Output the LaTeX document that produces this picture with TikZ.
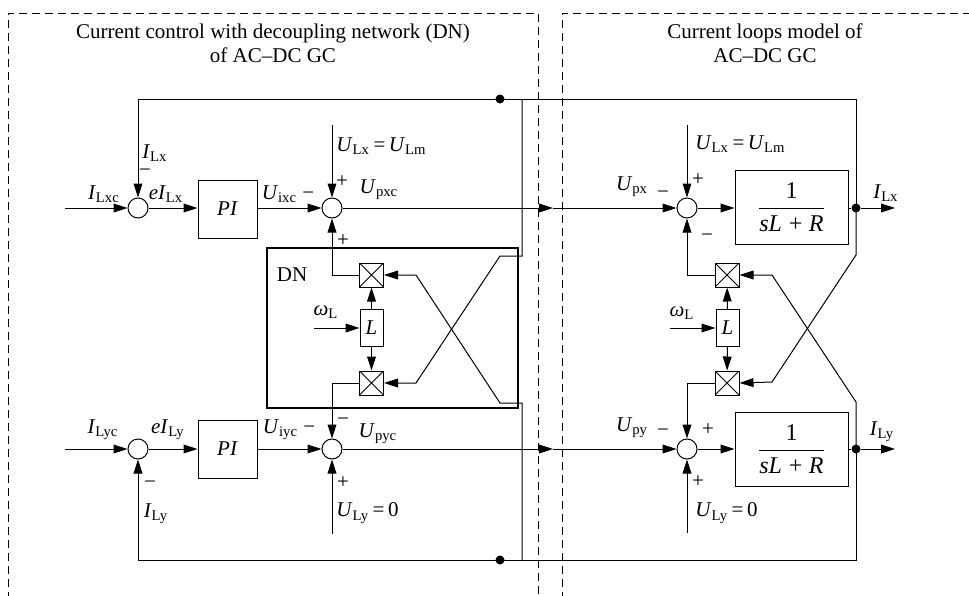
\documentclass[tikz,border=0pt]{standalone}
\usepackage{fontspec}
\setmainfont{Liberation Serif}
\usepackage{amsmath}
\usetikzlibrary{arrows.meta,positioning,calc}

\newcommand{\sig}[2]{\textit{#1}\textsubscript{#2}}

\begin{document}
\begin{tikzpicture}[
    x=0.5pt, y=-0.5pt,
    every node/.style={font=\fontsize{10.5}{12}\selectfont, inner sep=1pt},
    sumnode/.style={circle, draw, line width=0.5pt, minimum size=10pt, inner sep=0pt},
    blk/.style={rectangle, draw, line width=0.5pt, inner sep=0pt},
    plant/.style={blk, minimum width=56.5pt, minimum height=37pt, font=\fontsize{12}{14}\selectfont},
    mul/.style={rectangle, draw, line width=0.5pt, minimum size=12pt, inner sep=0pt,
        path picture={\draw[line width=0.5pt] (path picture bounding box.north west) -- (path picture bounding box.south east)
            (path picture bounding box.north east) -- (path picture bounding box.south west);}},
    dotnode/.style={circle, fill, minimum size=4.5pt, inner sep=0pt},
    frame/.style={dash pattern=on 4pt off 2.5pt, line width=0.5pt},
    arrow/.style={-{Triangle[length=7pt,width=4.4pt]}, line width=0.5pt},
    wire/.style={line width=0.5pt}
]
\useasboundingbox (0,0) rectangle (969,595);

% 1. Frames and titles
\draw[frame] (8,600) -- (8,13) -- (538,13) -- (538,600);
\draw[frame] (562,600) -- (562,13) -- (975,13);
\node[align=center] (title_ctrl) at (273,43) {Current control with decoupling network (DN)\\of AC--DC GC};
\node[align=center] (title_model) at (765,43) {Current loops model of\\AC--DC GC};

% 2. Current controller, x axis
\node[sumnode] (sum_ax) at (138,208) {};
\node[blk, minimum width=29.5pt, minimum height=29pt] (pi_x) at (227.5,209) {\textit{PI}};
\node[sumnode] (sum_bx) at (332,208) {};

% 3. Current controller, y axis
\node[sumnode] (sum_ay) at (138,449) {};
\node[blk, minimum width=29.5pt, minimum height=29pt] (pi_y) at (227.5,449) {\textit{PI}};
\node[sumnode] (sum_by) at (332,449) {};

% 4. Decoupling network
\draw[line width=1.2pt] (267,248) rectangle (518,408);
\node (dn_lbl) at (292,275) {DN};
\node[mul] (mul_xc) at (371.5,275) {};
\node[blk, minimum width=11.5pt, minimum height=18.5pt] (l_c) at (371.5,328) {\textit{L}};
\node[mul] (mul_yc) at (371.5,383) {};

% 5. Current loops model
\node[sumnode] (sum_cx) at (687,208) {};
\node[plant] (plant_x) at (791.5,207) {$\dfrac{\text{1}}{\text{\itshape sL}\;\text{+}\;\text{\itshape R}}$};
\node[dotnode] (dot_x) at (856,208) {};
\node[mul] (mul_xm) at (727,275) {};
\node[blk, minimum width=11.5pt, minimum height=18.5pt] (l_m) at (727.5,328) {\textit{L}};
\node[mul] (mul_ym) at (727,383) {};
\node[sumnode] (sum_cy) at (687,449) {};
\node[plant] (plant_y) at (791.5,449) {$\dfrac{\text{1}}{\text{\itshape sL}\;\text{+}\;\text{\itshape R}}$};
\node[dotnode] (dot_y) at (856,449) {};

% 6. Branch points and free ends
\node[dotnode] (tap_top) at (500,99) {};
\node[dotnode] (tap_bot) at (500,560) {};
\coordinate (in_x) at (65,208);
\coordinate (in_y) at (65,449);
\coordinate (ulx_c) at (332,125);
\coordinate (uly_c) at (332,534);
\coordinate (ulx_m) at (687,125);
\coordinate (uly_m) at (687,533);
\coordinate (w_c) at (314,328);
\coordinate (w_m) at (670,328);
\coordinate (out_x) at (895,208);
\coordinate (out_y) at (895,449);
\coordinate (mid_x) at (553,208);
\coordinate (mid_y) at (553,449);

% Signals
\draw[arrow] (in_x) -- (sum_ax);
\draw[arrow] (sum_ax) -- (pi_x.west |- sum_ax);
\draw[arrow] (pi_x.east |- sum_bx) -- (sum_bx);
\draw[arrow] (ulx_c) -- (sum_bx);
\draw[arrow] (sum_bx) -- (mid_x);
\draw[arrow] (mid_x) -- (sum_cx);
\draw[arrow] (in_y) -- (sum_ay);
\draw[arrow] (sum_ay) -- (pi_y);
\draw[arrow] (pi_y) -- (sum_by);
\draw[arrow] (uly_c) -- (sum_by);
\draw[arrow] (sum_by) -- (mid_y);
\draw[arrow] (mid_y) -- (sum_cy);

\draw[arrow] (l_c) -- (mul_xc);
\draw[arrow] (l_c) -- (mul_yc);
\draw[arrow] (w_c) -- (l_c.west);
\draw[arrow] (mul_xc.west) -| (sum_bx.south);
\draw[arrow] (mul_yc.west) -| (sum_by.north);

\draw[arrow] (ulx_m) -- (sum_cx);
\draw[arrow] (sum_cx) -- (plant_x.west |- sum_cx);
\draw[wire] (plant_x.east |- dot_x) -- (dot_x);
\draw[arrow] (dot_x) -- (out_x);
\draw[arrow] (uly_m) -- (sum_cy);
\draw[arrow] (sum_cy) -- (plant_y);
\draw[wire] (plant_y) -- (dot_y);
\draw[arrow] (dot_y) -- (out_y);
\draw[arrow] (l_m) -- (mul_xm);
\draw[arrow] (l_m) -- (mul_ym);
\draw[arrow] (w_m) -- (l_m.west);
\draw[arrow] (mul_xm.west) -| (sum_cx.south);
\draw[arrow] (mul_ym.west) -| (sum_cy.north);

% Feedback and cross coupling
\draw[arrow] (dot_x.center) -- (dot_x |- tap_top) -- (sum_ax |- tap_top) -- (sum_ax.north);
\draw[arrow] (dot_y.center) -- (dot_y |- tap_bot) -- (sum_ay |- tap_bot) -- (sum_ay.south);
\draw[arrow] (522,99) -- (522,256) -- (500,256) -- (416,383) -- (mul_yc.east);
\draw[arrow] (522,560) -- (522,403) -- (500,403) -- (416,275) -- (mul_xc.east);
\draw[arrow] (dot_x.center) -- (856,255) -- (772,382) -- (mul_ym.east);
\draw[arrow] (dot_y.center) -- (856,402) -- (772,275) -- (mul_xm.east);

% Labels
\node (lbl_ilxc) at (104,194) {\sig{I}{Lxc}};
\node (lbl_eilx) at (166,194) {\textit{e}\sig{I}{Lx}};
\node (lbl_ilx_fb) at (155,153) {\sig{I}{Lx}};
\node (sgn_ax) at (145,173) {−};
\node (lbl_uixc) at (288,194) {\sig{U}{ixc} −};
\node (sgn_bx_top) at (342,182) {+};
\node (lbl_upxc) at (379,190) {\sig{U}{pxc}};
\node (sgn_bx_bot) at (343,241) {+};
\node[anchor=west] (lbl_ulx_c) at (334,146) {\sig{U}{Lx}\,=\,\sig{U}{Lm}};
\node (lbl_w_c) at (326,312) {\sig{\textit{ω}}{L}};

\node (lbl_ilyc) at (103,430) {\sig{I}{Lyc}};
\node (lbl_eily) at (168,430) {\textit{e}\sig{I}{Ly}};
\node (lbl_uiyc) at (289,430) {\sig{U}{iyc} −};
\node (sgn_by_top) at (343,422) {−};
\node (lbl_upyc) at (378,434) {\sig{U}{pyc}};
\node (sgn_by_bot) at (343,483) {+};
\node[anchor=west] (lbl_uly_c) at (334,513) {\sig{U}{Ly}\,=\,0};
\node (sgn_ay) at (150,485) {−};
\node (lbl_ily_fb) at (156,514) {\sig{I}{Ly}};

\node (lbl_upx) at (632,187) {\sig{U}{px}};
\node (sgn_cx_left) at (663,195) {−};
\node (sgn_cx_top) at (698,180) {+};
\node[anchor=west] (lbl_ulx_m) at (693,144) {\sig{U}{Lx}\,=\,\sig{U}{Lm}};
\node (sgn_cx_bot) at (707,238) {−};
\node (lbl_ilx_out) at (886,193) {\sig{I}{Lx}};
\node (lbl_w_m) at (682,313) {\sig{\textit{ω}}{L}};

\node (lbl_upy) at (632,428) {\sig{U}{py}};
\node (sgn_cy_left) at (663,433) {−};
\node (sgn_cy_top) at (708,430) {+};
\node (sgn_cy_bot) at (698,482) {+};
\node[anchor=west] (lbl_uly_m) at (693,513) {\sig{U}{Ly}\,=\,0};
\node (lbl_ily_out) at (882,432) {\sig{I}{Ly}};

\end{tikzpicture}
\end{document}
